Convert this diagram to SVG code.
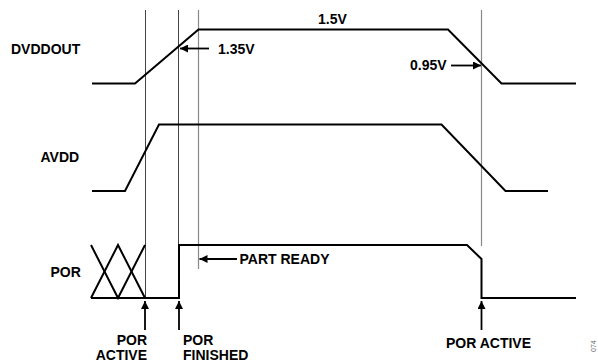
<svg xmlns="http://www.w3.org/2000/svg" width="598" height="362" viewBox="0 0 598 362">
<style>
.t{font-family:"Liberation Sans",Arial,sans-serif;font-weight:bold;font-size:14px;fill:#000}
.w{fill:none;stroke:#000;stroke-width:2;stroke-linejoin:miter}
.g1{stroke:#444;stroke-width:1}
.g2{stroke:#888;stroke-width:1.2}
.a{stroke:#000;stroke-width:1.8;fill:none}
</style>
<defs>
<marker id="ah2" viewBox="0 0 10 10" refX="10" refY="5" markerWidth="14" markerHeight="8" markerUnits="userSpaceOnUse" orient="auto">
<path d="M0,0 L10,5 L0,10 z" fill="#000"/>
</marker>
</defs>
<g id="guides">
<line class="g1" x1="145.5" y1="10" x2="145.5" y2="298"/>
<line class="g1" x1="178.5" y1="10" x2="178.5" y2="246"/>
<line class="g2" x1="198.5" y1="10" x2="198.5" y2="269"/>
<line class="g2" x1="481.5" y1="10" x2="481.5" y2="246"/>
</g>
<g id="labels">
<text class="t" x="11" y="54">DVDDOUT</text>
<text class="t" x="40.5" y="162">AVDD</text>
<text class="t" x="50.5" y="277">POR</text>
</g>
<g id="dvddout">
<polyline class="w" points="92,83.5 135,83.5 198.5,29.5 448,29.5 501.5,83.5 576,83.5"/>
<text class="t" x="318" y="24">1.5V</text>
</g>
<g id="avdd">
<polyline class="w" points="92,191 125,191 159,124.5 441.5,124.5 505.5,191 548,191"/>
</g>
<g id="por">
<polyline class="w" points="91,245 118,298 145,245"/>
<polyline class="w" points="91,298 118,245 145,298"/>
<line class="w" x1="91" y1="298" x2="145" y2="298"/>
<polyline class="w" points="145,298 179,298 179,245 467,245 481.5,259 481.5,298 576,298"/>
</g>
<g id="connectors">
<line class="a" x1="209" y1="48.5" x2="180" y2="48.5" marker-end="url(#ah2)"/>
<line class="a" x1="451" y1="65.5" x2="481" y2="65.5" marker-end="url(#ah2)"/>
<line class="a" x1="237" y1="259" x2="199.5" y2="259" marker-end="url(#ah2)"/>
<line class="a" x1="145" y1="330" x2="145" y2="301" marker-end="url(#ah2)"/>
<line class="a" x1="179" y1="330" x2="179" y2="301" marker-end="url(#ah2)"/>
<line class="a" x1="481.5" y1="330" x2="481.5" y2="301" marker-end="url(#ah2)"/>
</g>
<g id="annotations">
<text class="t" x="147" y="344.5" text-anchor="end">POR</text>
<text class="t" x="147" y="360" text-anchor="end">ACTIVE</text>
<text class="t" x="183" y="344.5">POR</text>
<text class="t" x="183" y="360">FINISHED</text>
<text class="t" x="218" y="54">1.35V</text>
<text class="t" x="410" y="70">0.95V</text>
<text class="t" x="239.5" y="263.5">PART READY</text>
<text class="t" x="446" y="348">POR ACTIVE</text>
<text x="0" y="0" transform="translate(596,352) rotate(-90)" style="font-family:'Liberation Sans',Arial,sans-serif;font-size:7px;fill:#666">074</text>
</g>
</svg>
